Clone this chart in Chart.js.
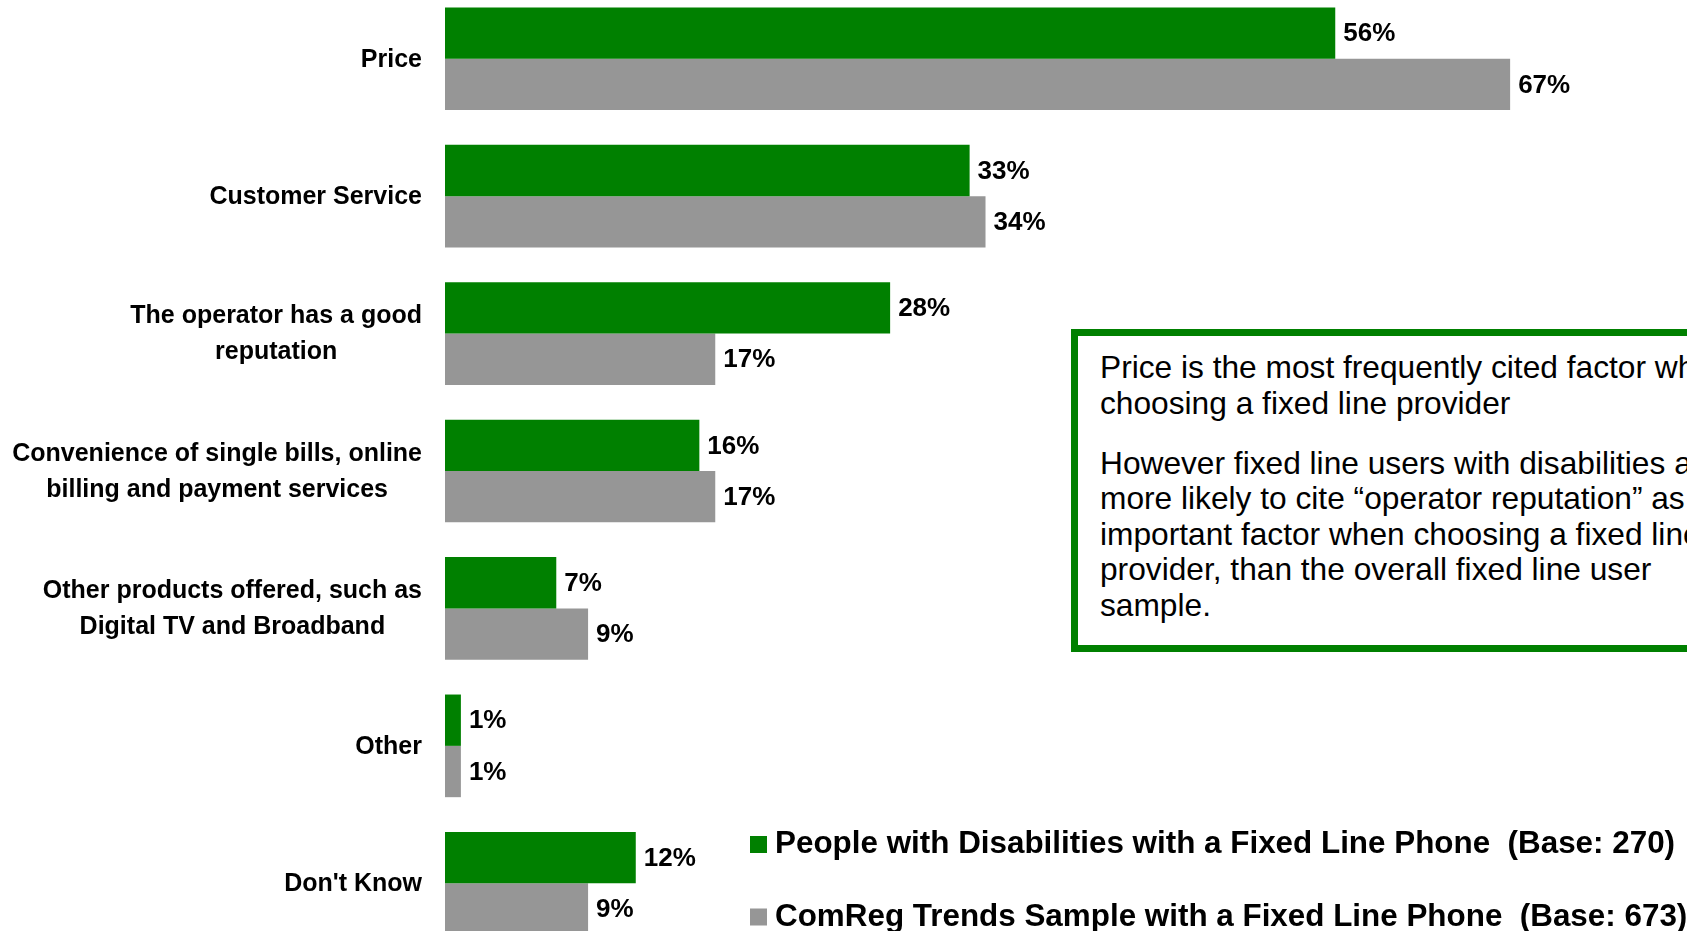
<!DOCTYPE html>
<html>
<head>
<meta charset="utf-8">
<script src="https://cdn.jsdelivr.net/npm/chart.js@4/dist/chart.umd.min.js"></script>
<style>
    html, body { margin: 0; padding: 0; background: #fff; overflow: hidden; width: 1687px; height: 931px; }
    #grafica { position: absolute; left: 0; top: -10px; }
    #nota {
        position: absolute; left: 1071px; top: 329px;
        width: 720px; height: 309px;
        border: 7px solid #008000; background: #fff;
        font-family: "Liberation Sans", Arial, sans-serif; font-size: 31.7px; color: #000;
    }
    #nota .texto {
        position: absolute; left: 22px; top: 14px;
        white-space: nowrap; line-height: 35.5px;
    }
    #nota p { margin: 0 0 24.5px 0; }
</style>
</head>
<body>
<canvas id="grafica" width="1687" height="962"></canvas>
<div id="nota">
    <div class="texto">
        <p>Price is the most frequently cited factor when<br>choosing a fixed line provider</p>
        <p>However fixed line users with disabilities are<br>more likely to cite “operator reputation” as an<br>important factor when choosing a fixed line<br>provider, than the overall fixed line user<br>sample.</p>
    </div>
</div>
<script>
const categories = [
    ['Price'],
    ['Customer Service'],
    ['The operator has a good', 'reputation'],
    ['Convenience of single bills, online', 'billing and payment services'],
    ['Other products offered, such as', 'Digital TV and Broadband'],
    ['Other'],
    ["Don't Know"]
];
const disabilityValues = [56, 33, 28, 16, 7, 1, 12];
const trendsValues = [67, 34, 17, 17, 9, 1, 9];
const seriesNames = [
    'People with Disabilities with a Fixed Line Phone  (Base: 270)',
    'ComReg Trends Sample with a Fixed Line Phone  (Base: 673)'
];
const seriesColors = ['#008000', '#969696'];

const FONT = '"Liberation Sans", Arial, sans-serif';

// etiquetas de categoria: bloque alineado a la derecha, lineas centradas
const etiquetasEje = {
    id: 'etiquetasEje',
    afterDraw(chart) {
        const ctx = chart.ctx;
        const y = chart.scales.y;
        const derecha = 422;
        const alto = 36;
        ctx.save();
        ctx.font = 'bold 25px ' + FONT;
        ctx.fillStyle = '#000';
        ctx.textAlign = 'center';
        ctx.textBaseline = 'middle';
        categories.forEach((lineas, i) => {
            const centro = y.getPixelForTick(i);
            const ancho = Math.max(...lineas.map(l => ctx.measureText(l).width));
            const x = derecha - ancho / 2;
            const inicio = centro + 1 - (lineas.length - 1) * alto / 2;
            lineas.forEach((l, j) => ctx.fillText(l, x, inicio + j * alto));
        });
        ctx.restore();
    }
};

// porcentaje al final de cada barra
const valoresBarras = {
    id: 'valoresBarras',
    afterDatasetsDraw(chart) {
        const ctx = chart.ctx;
        ctx.save();
        ctx.font = 'bold 26px ' + FONT;
        ctx.fillStyle = '#000';
        ctx.textAlign = 'left';
        ctx.textBaseline = 'middle';
        chart.data.datasets.forEach((ds, d) => {
            chart.getDatasetMeta(d).data.forEach((bar, i) => {
                ctx.fillText(ds.data[i] + '%', bar.x + 8, bar.y + 1);
            });
        });
        ctx.restore();
    }
};

// leyenda abajo a la derecha, una serie por renglon
const leyenda = {
    id: 'leyenda',
    afterDraw(chart) {
        const ctx = chart.ctx;
        const filas = [854.5, 927];
        ctx.save();
        ctx.font = 'bold 31.4px ' + FONT;
        ctx.textAlign = 'left';
        ctx.textBaseline = 'middle';
        chart.data.datasets.forEach((ds, d) => {
            const cy = filas[d];
            ctx.fillStyle = ds.backgroundColor;
            ctx.fillRect(750, cy - 8.5, 17, 17);
            ctx.fillStyle = '#000';
            ctx.fillText(ds.label, 775, cy);
        });
        ctx.restore();
    }
};

new Chart(document.getElementById('grafica'), {
    type: 'bar',
    data: {
        labels: categories.map(c => c.join(' ')),
        datasets: [
            { label: seriesNames[0], data: disabilityValues, backgroundColor: seriesColors[0] },
            { label: seriesNames[1], data: trendsValues, backgroundColor: seriesColors[1] }
        ]
    },
    options: {
        indexAxis: 'y',
        responsive: false,
        animation: false,
        layout: { padding: { left: 0, right: 2, top: 0, bottom: 0 } },
        datasets: { bar: { categoryPercentage: 0.747, barPercentage: 1.0 } },
        plugins: { legend: { display: false }, tooltip: { enabled: false } },
        scales: {
            x: { display: false, min: 0, max: 78 },
            y: {
                grid: { display: false },
                border: { display: false },
                ticks: { display: false },
                afterFit(scale) { scale.width = 445; }
            }
        }
    },
    plugins: [etiquetasEje, valoresBarras, leyenda]
});
</script>
</body>
</html>
